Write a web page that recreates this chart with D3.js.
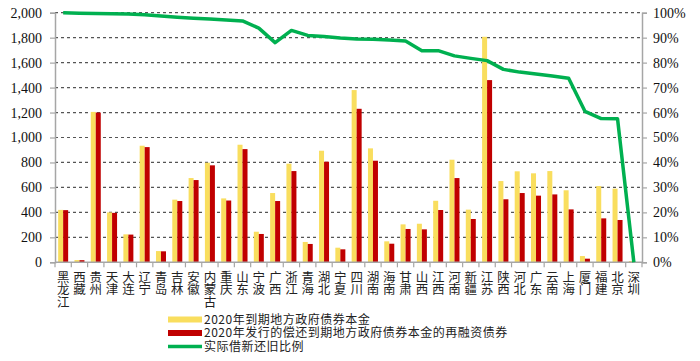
<!DOCTYPE html>
<html><head><meta charset="utf-8">
<script src="https://cdn.jsdelivr.net/npm/d3@7"></script>
<style>body{margin:0;background:#fff}svg{display:block}</style>
</head><body>
<svg id="c" width="700" height="361"></svg>
<script>
const categories = ["黑龙江","西藏","贵州","天津","大连","辽宁","青岛","吉林","安徽","内蒙古","重庆","山东","宁波","广西","浙江","青海","湖北","宁夏","四川","湖南","海南","甘肃","山西","江西","河南","新疆","江苏","陕西","河北","广东","云南","上海","厦门","福建","北京","深圳"];
const maturing = [420,18,1205,400,224,934,90,502,675,798,512,942,245,555,790,163,894,117,1380,913,168,304,309,493,822,422,1807,651,729,713,731,577,50,611,590,10];
const refinancing = [418,17,1200,396,222,923,88,491,659,777,495,907,227,491,731,147,806,104,1230,814,149,267,264,419,675,347,1460,505,555,534,544,424,29,352,339,0];
const ratio = [100,99.8,99.7,99.6,99.5,99.2,98.7,98.2,97.8,97.5,97.1,96.7,93.8,88.0,92.9,90.9,90.5,89.9,89.5,89.4,89.1,88.7,84.8,84.8,82.7,81.7,80.8,77.3,76.2,75.4,74.6,73.7,60.5,57.6,57.5,0];
const leftTicks = [0,200,400,600,800,1000,1200,1400,1600,1800,2000];
const rightTicks = [0,10,20,30,40,50,60,70,80,90,100];
const seriesNames = ["2020年到期地方政府债券本金","2020年发行的偿还到期地方政府债券本金的再融资债券","实际借新还旧比例"];
const colors = ["#F9DE5E","#C00000","#00B050"];

const svg = d3.select("#c");
const L = 55, R = 642, T = 12.7, B = 262.3;
const x = d3.scaleBand().domain(categories).range([L, R]).padding(0);
const bw = x.bandwidth();
const x1 = d3.scaleBand().domain([0,1]).range([bw/2-5, bw/2+5]).padding(0);
const y = d3.scaleLinear().domain([0,2000]).range([B, T]);
const y2 = d3.scaleLinear().domain([0,100]).range([B, T]);

// grid
svg.append("g").selectAll("line").data(leftTicks.filter(d=>d>0)).join("line")
  .attr("x1", L).attr("x2", R).attr("y1", d=>y(d)).attr("y2", d=>y(d))
  .attr("stroke", "#555").attr("stroke-width", 1.2).attr("stroke-dasharray", "3,3");

// bars
const g = svg.append("g");
categories.forEach((c,i)=>{
  [maturing[i], refinancing[i]].forEach((v,k)=>{
    g.append("rect").attr("x", x(c)+x1(k)).attr("width", x1.bandwidth())
      .attr("y", y(v)).attr("height", B - y(v)).attr("fill", colors[k]);
  });
});

// axes
const axisColor = "#A6A6A6";
const fmt = d3.format(",");
const la = svg.append("g").attr("transform", `translate(${L},0)`)
  .call(d3.axisLeft(y).tickValues(leftTicks).tickFormat(fmt).tickSize(5).tickPadding(8));
const ra = svg.append("g").attr("transform", `translate(${R},0)`)
  .call(d3.axisRight(y2).tickValues(rightTicks).tickFormat(d=>d+"%").tickSize(5).tickPadding(6));
[la, ra].forEach(a=>{
  a.select(".domain").attr("stroke", axisColor).attr("stroke-width", 1.5);
  a.selectAll(".tick line").attr("stroke", axisColor).attr("stroke-width", 1.2);
  a.selectAll("text").attr("font-family", "'Liberation Serif','Times New Roman',serif")
    .attr("font-size", 14).attr("fill", "#111");
});
// x axis
const xa = svg.append("g").attr("transform", `translate(0,${B})`);
xa.append("line").attr("x1", L).attr("x2", R).attr("stroke", axisColor).attr("stroke-width", 1.5);
xa.selectAll("line.t").data(d3.range(categories.length+1)).join("line").attr("class","t")
  .attr("x1", i=>L+i*bw).attr("x2", i=>L+i*bw).attr("y1", 0).attr("y2", 5)
  .attr("stroke", axisColor).attr("stroke-width", 1.2);
xa.selectAll("text.cat").data(categories).join("text").attr("class","cat")
  .attr("x", c=>x(c)+bw/2).attr("y", 8.5)
  .attr("writing-mode","tb").style("text-orientation","upright")
  .attr("font-family","'Noto Sans CJK SC',sans-serif")
  .attr("font-size", 12.5).attr("fill","#222").text(c=>c);

// line
svg.append("path").datum(ratio)
  .attr("d", d3.line().x((d,i)=>x(categories[i])+bw/2).y(d=>y2(d)))
  .attr("fill","none").attr("stroke", colors[2]).attr("stroke-width", 3.5).attr("stroke-linejoin","round");

// legend
const lg = svg.append("g");
const ly = [319.5, 333, 346.5];
seriesNames.forEach((n,i)=>{
  if (i<2) lg.append("rect").attr("x",168).attr("y",ly[i]-3).attr("width",34).attr("height",6).attr("fill",colors[i]);
  else lg.append("line").attr("x1",168).attr("x2",202).attr("y1",ly[i]).attr("y2",ly[i]).attr("stroke",colors[i]).attr("stroke-width",3.5);
  lg.append("text").attr("x",204).attr("y",ly[i]).attr("dy","0.36em")
    .attr("font-family","'Noto Sans CJK SC',sans-serif").attr("font-size",12).attr("letter-spacing",0.5)
    .attr("fill","#222").text(n);
});
</script>
</body></html>
